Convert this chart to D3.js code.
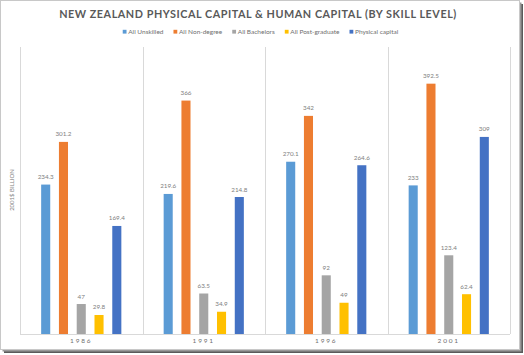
<!DOCTYPE html>
<html><head><meta charset="utf-8">
<script src="https://cdn.jsdelivr.net/npm/d3@7"></script>
<style>
html,body{margin:0;padding:0;background:#fff;}
svg{display:block;font-family:Lato, "Open Sans", sans-serif;}
</style></head>
<body>
<svg id="c" width="524" height="355"></svg>
<script>
const years = ["1986","1991","1996","2001"];
const seriesNames = ["All Unskilled","All Non-degree","All Bachelors","All Post-graduate","Physical capital"];
const seriesColors = ["#5B9BD5","#ED7D31","#A5A5A5","#FFC000","#4472C4"];
const unskilled = [234.3, 219.6, 270.1, 233];
const nonDegree = [301.2, 366, 342, 392.5];
const bachelors = [47, 63.5, 92, 123.4];
const postGrad = [29.8, 34.9, 49, 62.4];
const physical = [169.4, 214.8, 264.6, 309];
const seriesValues = [unskilled, nonDegree, bachelors, postGrad, physical];
const yMax = 450;

(function(){
const svg = d3.select("#c");
// frame with shadow
svg.append("rect").attr("x",4).attr("y",4).attr("width",519).attr("height",349).attr("fill","#5a5a5a");
svg.append("rect").attr("x",2.5).attr("y",2.5).attr("width",519).attr("height",349).attr("fill","#999");
svg.append("rect").attr("x",0.5).attr("y",0.5).attr("width",519).attr("height",349).attr("fill","#fff").attr("stroke","#c8c8c8");

const pL=20, pR=510, pT=47, pB=334;
const x0 = d3.scaleBand().domain(years).range([pL,pR]).padding(0);
const x1 = d3.scaleBand().domain(seriesNames).range([0,x0.bandwidth()]).paddingInner(0.49).paddingOuter(1.19);
const y = d3.scaleLinear().domain([0,yMax]).range([pB,pT]);

// vertical gridlines at category boundaries
const bounds = years.map(d=>x0(d)).concat([pR]);
svg.append("g").selectAll("line").data(bounds).join("line")
  .attr("x1",d=>Math.round(d)+0.5).attr("x2",d=>Math.round(d)+0.5).attr("y1",pT).attr("y2",pB)
  .attr("stroke","#d9d9d9").attr("stroke-width",1);

// bars
const data = [];
years.forEach((yr,i)=>seriesNames.forEach((s,j)=>data.push({yr,s,j,v:seriesValues[j][i]})));
svg.append("g").selectAll("rect").data(data).join("rect")
  .attr("x",d=>x0(d.yr)+x1(d.s)).attr("width",x1.bandwidth())
  .attr("y",d=>y(d.v)).attr("height",d=>y(0)-y(d.v))
  .attr("fill",d=>seriesColors[d.j]);

// data labels
svg.append("g").selectAll("text").data(data).join("text")
  .attr("x",d=>x0(d.yr)+x1(d.s)+x1.bandwidth()/2).attr("y",d=>y(d.v)-5.5)
  .attr("text-anchor","middle").attr("font-size",6.3).attr("fill","#808080")
  .text(d=>d.v);

// x axis
const xa = svg.append("g").attr("transform",`translate(0,${pB})`)
  .call(d3.axisBottom(x0).tickSize(0).tickPadding(4));
xa.select(".domain").attr("stroke","#d9d9d9").attr("d",`M${pL},0.5H${pR}`);
xa.selectAll("text").attr("font-size",6.5).attr("fill","#6f6f6f").attr("letter-spacing","1.8px").attr("font-family","Lato, sans-serif");

// y label
svg.append("text").attr("transform","translate(14,190) rotate(-90)")
  .attr("text-anchor","middle").attr("font-size",6).attr("fill","#7f7f7f").text("2001$ BILLION");

// title
svg.append("text").attr("x",258).attr("y",18).attr("text-anchor","middle")
  .attr("font-size",10.8).attr("font-weight","bold").attr("fill","#595959").attr("letter-spacing","0.55px")
  .text("NEW ZEALAND PHYSICAL CAPITAL & HUMAN CAPITAL (BY SKILL LEVEL)");

// legend
const lg = svg.append("g");
let lx = 0;
seriesNames.forEach((s,j)=>{
  const g = lg.append("g").attr("transform",`translate(${lx},0)`);
  g.append("rect").attr("x",0).attr("y",-4.2).attr("width",3.8).attr("height",3.8).attr("fill",seriesColors[j]);
  const t = g.append("text").attr("x",5.5).attr("y",0).attr("font-size",6.5).attr("fill","#6f6f6f").text(s);
  lx += 5.5 + t.node().getComputedTextLength() + 10;
});
const lw = lx - 10;
lg.attr("transform",`translate(${260.5 - lw/2},34)`);
})();
</script>
</body></html>
